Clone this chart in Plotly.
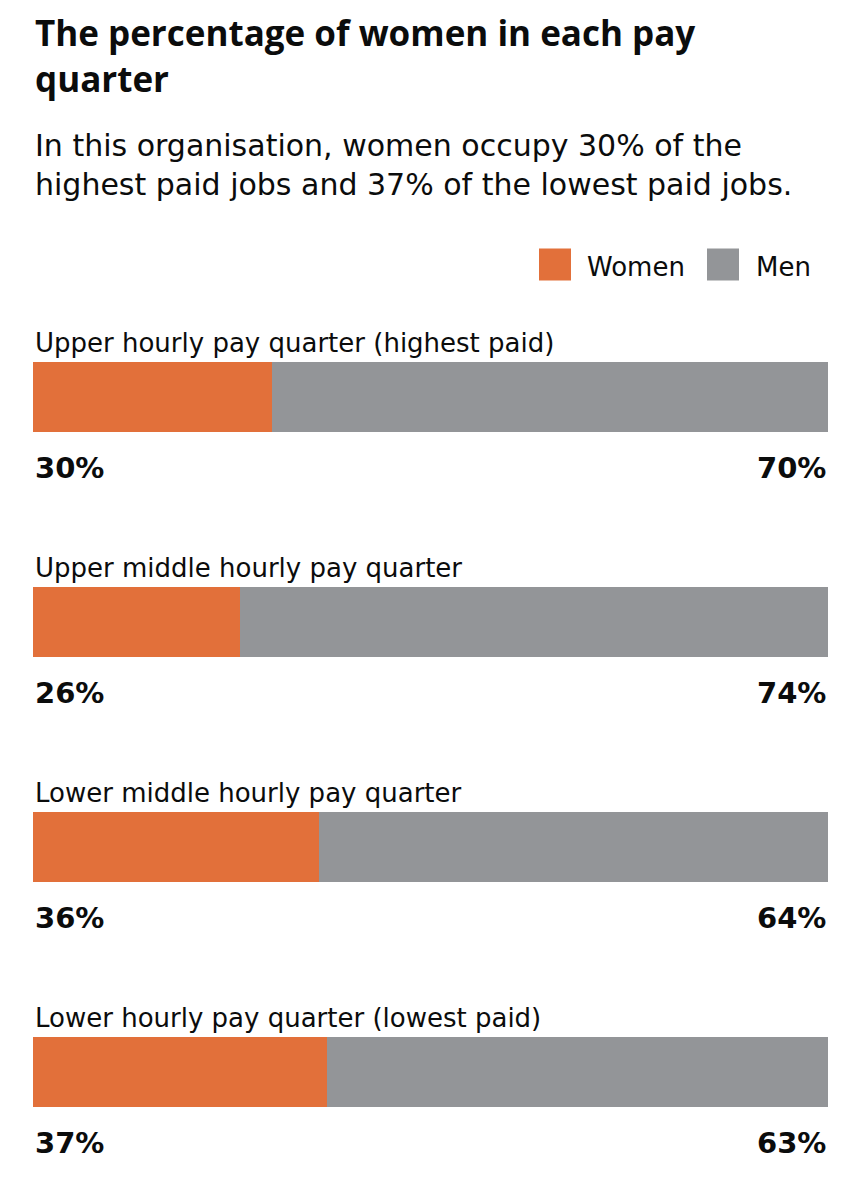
import plotly.graph_objects as go

quarters = [
    "Upper hourly pay quarter (highest paid)",
    "Upper middle hourly pay quarter",
    "Lower middle hourly pay quarter",
    "Lower hourly pay quarter (lowest paid)",
]
women = [30, 26, 36, 37]
men = [70, 74, 64, 63]

ORANGE = "#E2703A"
GREY = "#939598"
INK = "#0b0c0c"
FONT = "DejaVu Sans"
TITLE_FONT = "Open Sans"

# the page puts the plot 8px in from the top-left corner, so work in screen pixels
def sx(px):
    return (px - 33) / 795

def sy(px):
    return (1184.5 - px) / 900


fig = go.Figure()
fig.add_trace(go.Bar(y=quarters, x=women, orientation="h", name="Women",
                     marker=dict(color=ORANGE, line_width=0), width=0.311))
fig.add_trace(go.Bar(y=quarters, x=men, orientation="h", name="Men",
                     marker=dict(color=GREY, line_width=0), width=0.311))

for q, w, m in zip(quarters, women, men):
    fig.add_annotation(x=0, xref="paper", y=q, yref="y", yshift=54,
                       text=q, showarrow=False, xanchor="left",
                       font=dict(size=26, color=INK, family=FONT))
    fig.add_annotation(x=0, xref="paper", y=q, yref="y", yshift=-71,
                       text=f"<b>{w}%</b>", showarrow=False, xanchor="left",
                       font=dict(size=29, color=INK, family=FONT))
    fig.add_annotation(x=1, xref="paper", y=q, yref="y", yshift=-71,
                       text=f"<b>{m}%</b>", showarrow=False, xanchor="right",
                       font=dict(size=29, color=INK, family=FONT))

fig.add_annotation(x=sx(33), xref="paper", y=sy(55), yref="paper",
                   text="<b>The percentage of women in each pay<br>quarter</b>",
                   showarrow=False, xanchor="left", yanchor="middle", align="left",
                   font=dict(size=35, color=INK, family=TITLE_FONT))
fig.add_annotation(x=sx(33), xref="paper", y=sy(164.5), yref="paper",
                   text="In this organisation, women occupy 30% of the<br>"
                        "highest paid jobs and 37% of the lowest paid jobs.",
                   showarrow=False, xanchor="left", yanchor="middle", align="left",
                   font=dict(size=30, color=INK, family=FONT))

# legend drawn by hand
for label, color, x0, tx in [("Women", ORANGE, 539, 585), ("Men", GREY, 707, 754)]:
    fig.add_shape(type="rect", xref="paper", yref="paper",
                  x0=sx(x0), x1=sx(x0 + 32), y0=sy(280), y1=sy(248),
                  fillcolor=color, line_width=0)
    fig.add_annotation(x=sx(tx), xref="paper", y=sy(266), yref="paper",
                       text=label, showarrow=False, xanchor="left", yanchor="middle",
                       font=dict(size=26, color=INK, family=FONT))

fig.update_layout(
    width=861, height=1200,
    margin=dict(l=25, r=41, t=276.5, b=23.5),
    paper_bgcolor="white", plot_bgcolor="white",
    barmode="stack", showlegend=False,
    xaxis=dict(range=[0, 100], visible=False, fixedrange=True),
    yaxis=dict(visible=False, autorange=False, range=[3.5, -0.5],
               categoryorder="array", categoryarray=quarters, fixedrange=True),
)

fig.write_html("out.html")
